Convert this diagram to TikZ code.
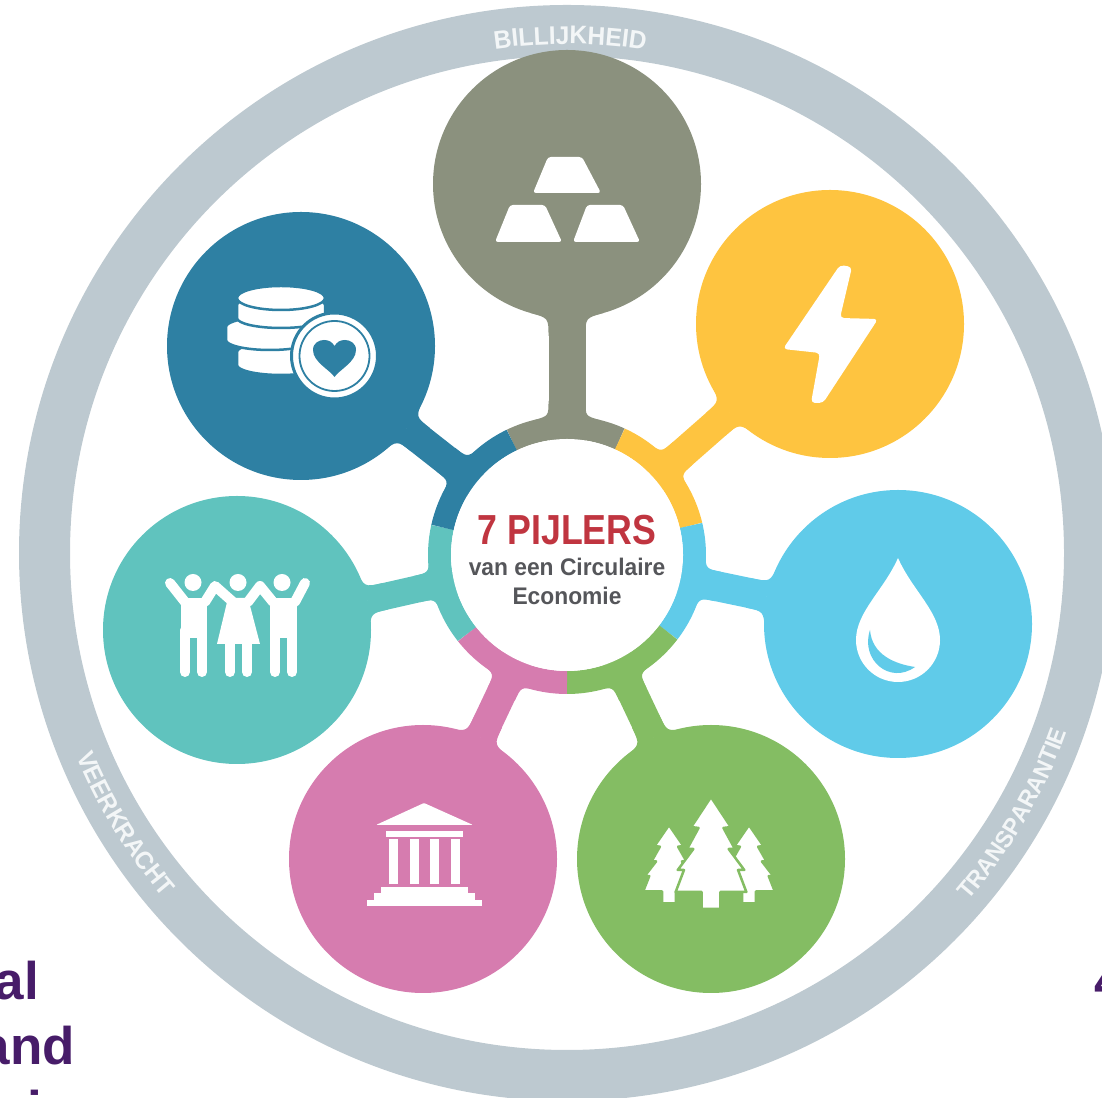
\documentclass[tikz,border=0pt]{standalone}
\usepackage{fontspec}
\setmainfont{Liberation Sans}
\newfontfamily\titelfont[FakeStretch=0.85]{Liberation Sans}
\newfontfamily\onderfont[FakeStretch=0.95]{Liberation Sans}
\newfontfamily\ringfont[FakeStretch=0.96]{Liberation Sans}
\usetikzlibrary{decorations.text}

\definecolor{ringgrijs}{HTML}{BDC9D0}
\definecolor{ringtekst}{HTML}{F3F6F7}
\definecolor{goudkleur}{HTML}{8B917E}
\definecolor{energiekleur}{HTML}{FEC440}
\definecolor{waterkleur}{HTML}{60CBE9}
\definecolor{natuurkleur}{HTML}{84BD63}
\definecolor{cultuurkleur}{HTML}{D67CAF}
\definecolor{mensenkleur}{HTML}{60C3BE}
\definecolor{geldkleur}{HTML}{2E80A3}
\definecolor{titelrood}{HTML}{C03540}
\definecolor{ondergrijs}{HTML}{55565A}
\definecolor{paars}{HTML}{471C69}

\tikzset{
    pijler/.style={circle,fill=#1,minimum size=268pt,inner sep=0pt},
    paarstekst/.style={inner sep=0pt,text=paars,font=\fontsize{53}{53}\selectfont\bfseries},
    ringlabel/.style={decorate,decoration={text along path,text align=center,text={#1}}},
    lijf/.style={draw=white,line width=10pt,line cap=round,line join=round},
    been/.style={draw=white,line width=10pt,line cap=round}
}

% Stem from the hub to a pillar, with rounded feet on both sides
% #1 node, #2 colour, #3 angle, #4 distance, #5 half width
\newcommand{\pijlersteel}[5]{
    \draw [#2,line width=#5*2pt] (hub) -- (#1);
    \begin{scope}[shift={(hub)},rotate=#3]
    \foreach \s in {1,-1} {
        \fill [#2] (135,{(#5+14)*\s}) .. controls (139,{#5*\s}) .. (154,{#5*\s})
            -- (154,0) -- (120,0) -- cycle;
        \fill [#2] ({#4-129},{(#5+18)*\s}) .. controls ({#4-134},{#5*\s}) .. ({#4-152},{#5*\s})
            -- ({#4-152},0) -- ({#4-120},0) -- cycle;
    }
    \end{scope}
}
% Piece of the coloured ring round the hub
\newcommand{\ringstuk}[3]{
    \draw [#1,line width=23pt] (hub) ++(#2:127.5) arc [start angle=#2,end angle=#3,radius=127.5];
}
% One coin of the stack
\newcommand{\munt}[4]{
    \fill [white,draw=geldkleur,line width=2.5pt] ({#1-44},#2) -- ({#1-44},{#2+#3})
        arc [start angle=180,end angle=0,x radius=44,y radius=#4] -- ({#1+44},#2)
        arc [start angle=360,end angle=180,x radius=44,y radius=#4] -- cycle;
}
% One fir tree, apex at #1,#2 and scales #3,#4
\newcommand{\boom}[4]{
    \begin{scope}[shift={(#1,#2)},xscale=#3,yscale=#4]
    \fill [white,draw=natuurkleur,line width=2.5pt,line join=round] (0,0) -- (-19,30) -- (-12,31) -- (-23,52) -- (-17,52)
        -- (-32,73) -- (-26,73) -- (-34,95) -- (-9,95) -- (-9,112) -- (9,112) -- (9,95) -- (34,95)
        -- (26,73) -- (32,73) -- (17,52) -- (23,52) -- (12,31) -- (19,30) -- cycle;
    \end{scope}
}

\begin{document}
\begin{tikzpicture}[x=1pt,y=1pt]
    \useasboundingbox (0,0) rectangle (1102,1097);
    \coordinate (hub) at (567,542);

    % Outer ring and its words
    \node (ring) [circle,draw=ringgrijs,line width=51pt,minimum size=1045pt,inner sep=0pt] at (567,544) {};
    \path [ringlabel={|\ringfont\fontsize{25.5}{26}\selectfont\bfseries\color{ringtekst}|BILLIJKHEID}]
        (ring.center) ++(110:509) arc [start angle=110,end angle=69.3,radius=509];
    \path [ringlabel={|\ringfont\fontsize{25}{25}\selectfont\bfseries\color{ringtekst}|VEERKRACHT}]
        (ring.center) ++(191.5:531) arc [start angle=191.5,end angle=231.5,radius=531];
    \path [ringlabel={|\ringfont\fontsize{24}{24}\selectfont\bfseries\color{ringtekst}|TRANSPARANTIE}]
        (ring.center) ++(-50.3:531) arc [start angle=-50.3,end angle=-10.3,radius=531];

    % The seven pillars
    \node (goud) [pijler=goudkleur] at (567,913) {};
    \node (energie) [pijler=energiekleur] at (830,773) {};
    \node (water) [pijler=waterkleur] at (898,473) {};
    \node (natuur) [pijler=natuurkleur] at (711,238) {};
    \node (cultuur) [pijler=cultuurkleur] at (423,238) {};
    \node (mensen) [pijler=mensenkleur] at (237,467) {};
    \node (geld) [pijler=geldkleur] at (301,751) {};

    \pijlersteel{goud}{goudkleur}{90}{371}{18.5}
    \pijlersteel{energie}{energiekleur}{41.3}{350}{15}
    \pijlersteel{water}{waterkleur}{-11.8}{338}{15}
    \pijlersteel{natuur}{natuurkleur}{-64.7}{336.4}{15}
    \pijlersteel{cultuur}{cultuurkleur}{-115.3}{336.4}{15}
    \pijlersteel{mensen}{mensenkleur}{192.8}{338.4}{13.5}
    \pijlersteel{geld}{geldkleur}{141.8}{338.3}{15}

    \ringstuk{goudkleur}{65.5}{115.7}
    \ringstuk{energiekleur}{13.4}{65.5}
    \ringstuk{waterkleur}{-37.4}{13.4}
    \ringstuk{natuurkleur}{-90}{-37.4}
    \ringstuk{cultuurkleur}{218.3}{270}
    \ringstuk{mensenkleur}{167.5}{218.3}
    \ringstuk{geldkleur}{115.7}{167.5}

    % Hub in the middle
    \node (kern) [circle,fill=white,minimum size=232pt,inner sep=0pt] at (hub) {};
    \node (titel) [anchor=base,text=titelrood,inner sep=0pt,font=\titelfont\fontsize{42}{42}\selectfont\bfseries] at (567,552) {7 PIJLERS};
    \node (onder) [anchor=base,text=ondergrijs,inner sep=0pt,font=\onderfont\fontsize{24}{24}\selectfont\bfseries] at (567,521) {van een Circulaire};
    \node (econ) [anchor=base,text=ondergrijs,inner sep=0pt,font=\onderfont\fontsize{24}{24}\selectfont\bfseries] at (567,492) {Economie};

    % Cut-off purple words at the page edges
    \node (al) [paarstekst,anchor=base east] at (39,97) {al};
    \node (en) [paarstekst,anchor=base east] at (75,33) {and};
    \node (ie) [paarstekst,anchor=base east] at (42,-31) {i};
    \node (vier) [paarstekst,anchor=base west] at (1094,97) {4};

    % Icons, written in picture pixels counted from the top
    \begin{scope}[shift={(0,1097)},y=-1pt]
    % Gold bars
    \fill [white,rounded corners=3pt] (548,157) -- (582,157) -- (601,193) -- (533,193) -- cycle;
    \fill [white,rounded corners=3pt] (510,205) -- (545,205) -- (562,242) -- (495,242) -- cycle;
    \fill [white,rounded corners=3pt] (587,205) -- (623,205) -- (640,242) -- (573,242) -- cycle;
    % Lightning
    \fill [white,rounded corners=4pt] (840,265) -- (852,267) -- (840,318) -- (878,319) -- (823,403)
        -- (811,403) -- (820,353) -- (783,349) -- cycle;
    % Drop
    \fill [white] (898,558) .. controls (884,590) and (856,612) .. (856,640)
        arc [start angle=180,end angle=0,radius=42] .. controls (940,612) and (912,590) .. (898,558) -- cycle;
    \fill [waterkleur] (870,630) .. controls (860,660) and (890,685) .. (915,667)
        .. controls (895,664) and (872,655) .. (870,630) -- cycle;
    % Fir trees
    \boom{669}{825}{0.76}{0.7}
    \boom{749}{825}{0.76}{0.7}
    \boom{711}{797}{1.04}{1}
    % Temple
    \fill [white,rounded corners=1pt] (424,803) -- (473,825) -- (376,825) -- cycle;
    \fill [white] (386,831) rectangle (463,837);
    \foreach \x in {389,410,430,451} {
        \fill [white] (\x,839) rectangle ++(9,45);
    }
    \fill [white] (381,887) rectangle (468,893);
    \fill [white] (374,893) rectangle (475,900);
    \fill [white] (367,900) rectangle (482,906);
    % Family
    \foreach \x in {193,238,282} {
        \fill [white] (\x,582.5) circle (8.5);
    }
    \draw [lijf] (170,583) -- (185,602);
    \draw [lijf] (205,602) -- (215,586) -- (233,602);
    \draw [lijf] (248,602) -- (260,586) -- (273,602);
    \draw [lijf] (295,602) -- (305,583);
    \fill [white] (181,598) rectangle (207,638);
    \fill [white] (270,598) rectangle (297,638);
    \fill [white] (228,598) -- (248,598) -- (260,644) -- (217,644) -- cycle;
    \foreach \x in {185,202,230,247,275,292} {
        \draw [been] (\x,630) -- (\x,672);
    }
    % Coins with heart
    \munt{281}{352}{13}{10}
    \munt{270}{327}{13}{10}
    \munt{281}{305}{13}{10}
    \fill [white,draw=geldkleur,line width=2.5pt] (281,298) ellipse [x radius=44,y radius=12];
    \fill [white,draw=geldkleur,line width=3pt] (334.5,356) circle (43);
    \draw [geldkleur,line width=1.8pt] (334.5,356) circle (35);
    \fill [geldkleur] (334.5,377) .. controls (330,370) and (313,362) .. (313,350)
        .. controls (313,343) and (319,340) .. (324,340) .. controls (329,340) and (332,342) .. (334.5,346)
        .. controls (337,342) and (340,340) .. (345,340) .. controls (350,340) and (356,343) .. (356,350)
        .. controls (356,362) and (339,370) .. (334.5,377) -- cycle;
    \end{scope}
\end{tikzpicture}
\end{document}
